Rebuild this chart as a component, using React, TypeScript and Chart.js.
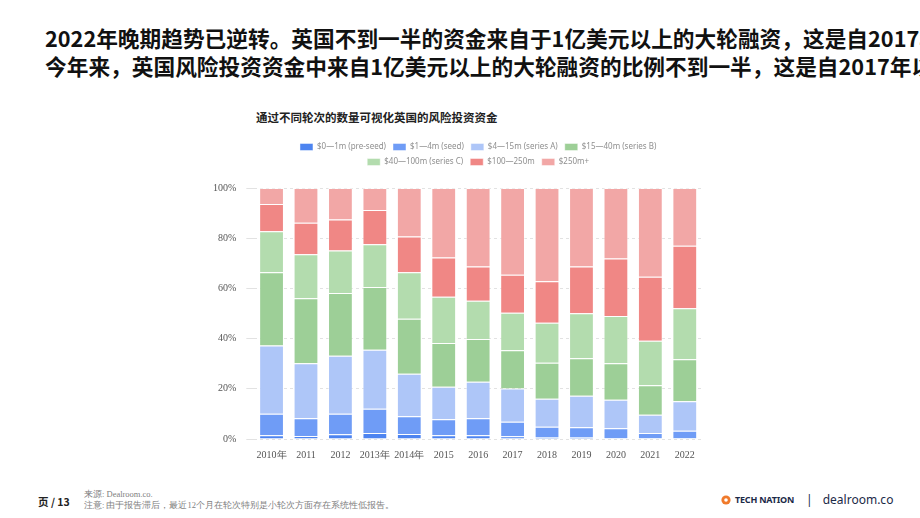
import React, { useEffect, useRef } from "react";
import { Chart, registerables } from "chart.js";

Chart.register(...registerables);

// Funding share (%) by round size, per year
const years = ["2010年", "2011", "2012", "2013年", "2014年", "2015", "2016", "2017", "2018", "2019", "2020", "2021", "2022"];
const preSeed = [1.5, 1.2, 1.9, 2.4, 2.0, 1.5, 1.5, 1.1, 0.7, 0.7, 0.3, 0.4, 0.4];
const seed = [8.6, 7.1, 8.2, 9.7, 7.1, 6.4, 6.8, 5.8, 4.2, 4.0, 4.0, 2.0, 2.9];
const seriesA = [27.2, 21.9, 23.1, 23.5, 16.9, 12.9, 14.5, 13.2, 11.1, 12.5, 11.3, 7.3, 11.7];
const seriesB = [29.1, 25.9, 25.0, 25.0, 21.9, 17.4, 17.0, 15.3, 14.4, 15.0, 14.6, 11.7, 16.8];
const seriesC = [16.4, 17.5, 16.9, 17.0, 18.5, 18.5, 15.3, 14.9, 15.9, 17.9, 18.8, 17.7, 20.3];
const mega = [10.8, 12.6, 12.4, 13.6, 14.3, 15.6, 13.6, 15.1, 16.5, 18.6, 22.9, 25.5, 24.9];
const megaPlus = [6.4, 13.8, 12.5, 8.8, 19.3, 27.7, 31.3, 34.6, 37.2, 31.3, 28.1, 35.4, 23.0];

const seriesLabels = [
  "$0—1m (pre-seed)",
  "$1—4m (seed)",
  "$4—15m (series A)",
  "$15—40m (series B)",
  "$40—100m (series C)",
  "$100—250m",
  "$250m+",
];
const seriesColors = ["#4d84f0", "#6f9cf6", "#aec6f8", "#9dcf97", "#b3dcae", "#f08785", "#f2a7a6"];
const seriesData = [preSeed, seed, seriesA, seriesB, seriesC, mega, megaPlus];
const yTicks = [0, 20, 40, 60, 80, 100];

const serif = '"Liberation Serif", "DejaVu Serif", serif';
const sans = '"Noto Sans", "Noto Sans CJK SC", sans-serif';
const cjk = '"Noto Sans CJK SC", "Noto Sans", sans-serif';

// Keeps the legend to four items per row and leaves a gap under it.
const legendLayout = {
  id: "legendLayout",
  beforeLayout(chart: any) {
    const lg = chart.legend;
    if (!lg || lg.__patched) return;
    const update = lg.update.bind(lg);
    const fit = lg.fit.bind(lg);
    lg.update = (w: number, h: number, m: any) => update(Math.min(w, 400), h, m);
    lg.fit = function () {
      fit();
      this.height += 12;
    };
    lg.__patched = true;
  },
};

function FundingChart() {
  const ref = useRef<HTMLCanvasElement | null>(null);

  useEffect(() => {
    if (!ref.current) return;
    const chart = new Chart(ref.current, {
      type: "bar",
      data: {
        labels: years,
        datasets: seriesData.map((d, i) => ({
          label: seriesLabels[i],
          data: d,
          backgroundColor: seriesColors[i],
          borderColor: "rgba(255,255,255,0.45)",
          borderWidth: 1,
        })),
      },
      plugins: [legendLayout],
      options: {
        animation: false,
        responsive: false,
        maintainAspectRatio: false,
        layout: { padding: { left: 8, right: 8, top: 0, bottom: 4 } },
        plugins: {
          legend: {
            position: "top",
            fullSize: false,
            labels: {
              boxWidth: 13,
              boxHeight: 7,
              padding: 7,
              color: "#8f8f8f",
              font: { family: sans, size: 8 },
            },
          },
          tooltip: { enabled: false },
        },
        scales: {
          x: {
            stacked: true,
            grid: { display: false, drawTicks: false },
            border: { display: false },
            ticks: { color: "#555", font: { family: serif, size: 10 }, padding: 10, maxRotation: 0, autoSkip: false },
          },
          y: {
            stacked: true,
            min: 0,
            max: 100,
            afterBuildTicks: (axis: any) => {
              axis.ticks = yTicks.map((v) => ({ value: v }));
            },
            grid: { color: "#e2e2e2", tickLength: 8, lineWidth: 1 },
            border: { display: false, dash: [3, 3] },
            ticks: {
              color: "#555",
              font: { family: serif, size: 10 },
              padding: 10,
              callback: (v: any) => `${v}%`,
            },
          },
        },
      },
    });
    return () => chart.destroy();
  }, []);

  return <canvas ref={ref} width={515} height={339} style={{ position: "absolute", left: 195, top: 136 }} />;
}

export default function App() {
  return (
    <div
      style={{
        position: "absolute",
        left: 0,
        top: 0,
        width: 920,
        height: 518,
        overflow: "hidden",
        background: "#fff",
      }}
    >
      <div
        style={{
          position: "absolute",
          left: 45,
          top: 24,
          whiteSpace: "nowrap",
          fontFamily: cjk,
          fontWeight: 700,
          fontSize: 21.7,
          lineHeight: "28px",
          color: "#111",
        }}
      >
        <div>2022年晚期趋势已逆转。英国不到一半的资金来自于1亿美元以上的大轮融资，这是自2017年以来首次。</div>
        <div>今年来，英国风险投资资金中来自1亿美元以上的大轮融资的比例不到一半，这是自2017年以来首次。</div>
      </div>

      <div
        style={{
          position: "absolute",
          left: 256,
          top: 109,
          whiteSpace: "nowrap",
          fontFamily: cjk,
          fontWeight: 700,
          fontSize: 11.5,
          color: "#222",
        }}
      >
        通过不同轮次的数量可视化英国的风险投资资金
      </div>

      <FundingChart />

      <div
        style={{
          position: "absolute",
          left: 38,
          top: 494,
          fontFamily: cjk,
          fontWeight: 700,
          fontSize: 10.5,
          color: "#222",
          whiteSpace: "nowrap",
        }}
      >
        页 / 13
      </div>
      <div
        style={{
          position: "absolute",
          left: 84,
          top: 489,
          fontFamily: serif,
          fontSize: 8.5,
          lineHeight: "11px",
          color: "#808080",
          whiteSpace: "nowrap",
        }}
      >
        <div>来源: Dealroom.co.</div>
        <div>注意: 由于报告滞后，最近12个月在轮次特别是小轮次方面存在系统性低报告。</div>
      </div>

      <div
        style={{
          position: "absolute",
          left: 721,
          top: 491,
          display: "flex",
          alignItems: "center",
          whiteSpace: "nowrap",
          color: "#1b2a47",
        }}
      >
        <svg width="10" height="10" viewBox="0 0 10 10" style={{ marginRight: 4 }}>
          <circle cx="5" cy="5" r="4.6" fill="#f07a2b" />
          <circle cx="5" cy="5" r="1.8" fill="#fff" />
        </svg>
        <span style={{ fontFamily: sans, fontWeight: 700, fontSize: 9, letterSpacing: -0.2 }}>TECH NATION</span>
        <span style={{ fontFamily: sans, fontSize: 12, margin: "0 10px 0 12px" }}>|</span>
        <span style={{ fontFamily: sans, fontSize: 12 }}>dealroom.co</span>
      </div>
    </div>
  );
}
